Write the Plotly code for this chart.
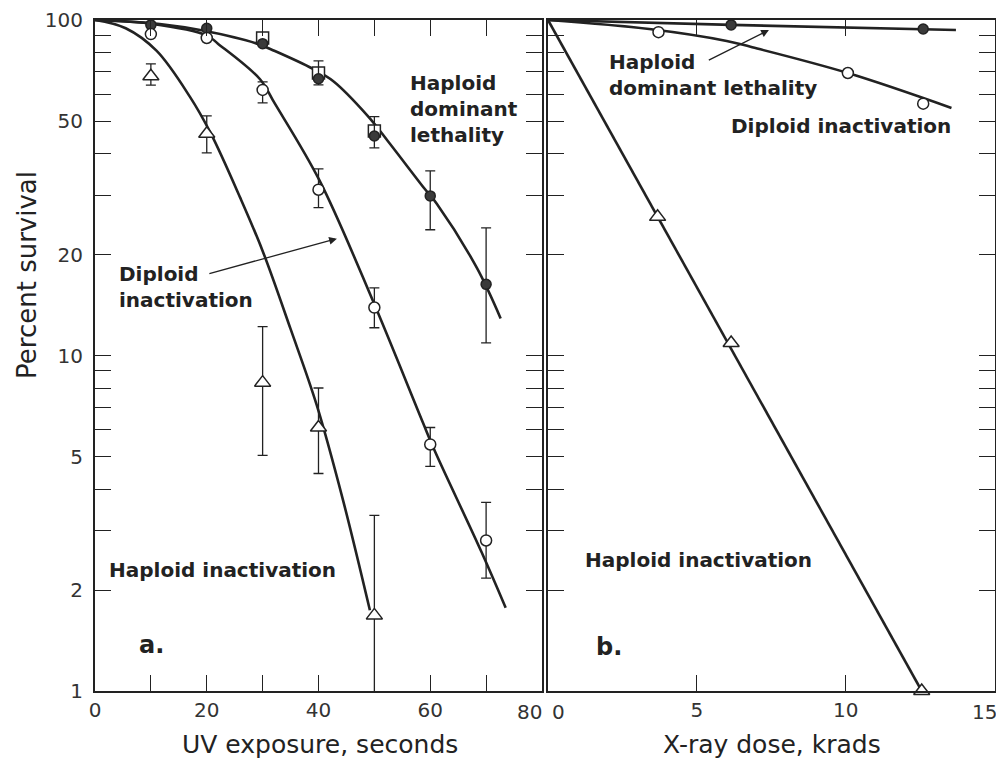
import math
import plotly.graph_objects as go

# ---- panel a: UV exposure (seconds) ----
uv_hap_t = [10, 20, 30, 40, 50]
uv_hap = [68, 45.8, 8.3, 6.1, 1.68]
uv_hap_hi = [74, 51.8, 12.2, 8.0, 3.34]
uv_hap_lo = [64, 40.2, 5.04, 4.45, 0.5]

uv_dip_t = [10, 20, 30, 40, 50, 60, 70]
uv_dip = [90.8, 88.4, 61.9, 31.2, 13.9, 5.43, 2.81]
uv_dip_hi = [90.8, 88.4, 65.4, 36.0, 15.9, 6.1, 3.65]
uv_dip_lo = [90.8, 88.4, 56.6, 27.6, 12.1, 4.67, 2.17]

uv_dom_t = [10, 20, 30, 40, 50, 60, 70]
uv_dom = [96.7, 94.5, 85.0, 66.8, 45.1, 29.9, 16.3]
uv_dom_hi = [96.7, 94.5, 85.0, 75.5, 51.5, 35.5, 24.0]
uv_dom_lo = [96.7, 94.5, 85.0, 64.1, 41.6, 23.7, 10.9]

uv_sq_t = [30, 40, 50]
uv_sq = [88.4, 69.5, 46.7]

# fitted curves
hap_curve_t = [0, 5.5, 11, 17, 20.7, 26, 30, 35, 39.7, 44.4, 49.2]
hap_curve = [100, 94.5, 81, 59, 46, 29.5, 20.5, 12, 7.1, 3.7, 1.74]
dip_curve_t = [0, 10, 20, 22, 29.5, 32.2, 40.2, 49.7, 58.7, 60.8, 69.2, 73.5]
dip_curve = [100, 97.5, 90, 85, 66.7, 56.3, 33.2, 14.6, 6.3, 5.2, 2.59, 1.77]
dom_curve_t = [0, 11.6, 19.3, 29, 32.2, 39, 42.6, 48.8, 52.4, 59, 61.2, 68.3, 72.6]
dom_curve = [100, 97.3, 93, 85, 80.8, 71.5, 65.8, 51.8, 43.6, 31.4, 28.3, 18.3, 12.9]

# ---- panel b: X-ray dose (krads) ----
xr_hap_d = [3.68, 6.15, 12.55]
xr_hap = [25.9, 10.9, 1.0]
xr_dip_d = [3.71, 10.07, 12.6]
xr_dip = [92, 69.5, 56.3]
xr_dom_d = [6.15, 12.6]
xr_dom = [96.7, 94]

xr_hap_curve_d = [0, 12.55]
xr_hap_curve = [100, 1.0]
xr_dip_curve_d = [0, 3.4, 6, 6.8, 10.07, 13.55]
xr_dip_curve = [100, 94, 86.6, 83.2, 69.5, 54.7]
xr_dom_curve_d = [0, 6.15, 13.7]
xr_dom_curve = [100, 96.7, 93.4]

y_ticks = [1, 2, 3, 4, 5, 6, 7, 8, 9, 10, 20, 30, 40, 50, 60, 70, 80, 90, 100]
y_labels = ['1', '2', '', '', '5', '', '', '', '', '10', '20', '', '', '50', '', '', '', '', '100']
uv_ticks = [0, 10, 20, 30, 40, 50, 60, 70, 80]
uv_labels = ['0', '', '20', '', '40', '', '60', '', '']
xr_ticks = [0, 5, 10, 15]
xr_labels = ['', '5', '10', '']
# labels at the shared panel edge, nudged apart as in the original
edge_labels = ['80', '0', '15']
edge_label_x = [0.4817, 0.5139, 0.9867]

INK = '#222222'
FONT = 'DejaVu Sans'


def err(vals, hi, lo):
    return dict(type='data', symmetric=False,
                array=[h - v for h, v in zip(hi, vals)],
                arrayminus=[v - l for v, l in zip(vals, lo)],
                color=INK, thickness=1.3, width=5)


def curve(x, y, xa, ya, shape='spline'):
    return go.Scatter(x=x, y=y, mode='lines', xaxis=xa, yaxis=ya,
                      line=dict(color=INK, width=2.6, shape=shape),
                      hoverinfo='skip', showlegend=False)


def pts(x, y, xa, ya, symbol, size, fill, error=None, clip=True):
    return go.Scatter(x=x, y=y, mode='markers', xaxis=xa, yaxis=ya,
                      marker=dict(symbol=symbol, size=size, color=fill,
                                  line=dict(color=INK, width=1.5)),
                      error_y=error, cliponaxis=clip, showlegend=False)


fig = go.Figure()

# panel a
fig.add_trace(curve(hap_curve_t, hap_curve, 'x', 'y'))
fig.add_trace(curve(dip_curve_t, dip_curve, 'x', 'y'))
fig.add_trace(curve(dom_curve_t, dom_curve, 'x', 'y'))
fig.add_trace(pts(uv_sq_t, uv_sq, 'x', 'y', 'square', 12, 'white'))
fig.add_trace(pts(uv_dom_t, uv_dom, 'x', 'y', 'circle', 10, '#3a3a3a',
                  err(uv_dom, uv_dom_hi, uv_dom_lo)))
fig.add_trace(pts(uv_dip_t, uv_dip, 'x', 'y', 'circle', 11, 'white',
                  err(uv_dip, uv_dip_hi, uv_dip_lo)))
fig.add_trace(pts(uv_hap_t, uv_hap, 'x', 'y', 'triangle-up', 14, 'white',
                  err(uv_hap, uv_hap_hi, uv_hap_lo)))

# panel b
fig.add_trace(curve(xr_hap_curve_d, xr_hap_curve, 'x2', 'y2', 'linear'))
fig.add_trace(curve(xr_dip_curve_d, xr_dip_curve, 'x2', 'y2'))
fig.add_trace(curve(xr_dom_curve_d, xr_dom_curve, 'x2', 'y2', 'linear'))
fig.add_trace(pts(xr_dom_d, xr_dom, 'x2', 'y2', 'circle', 10, '#3a3a3a'))
fig.add_trace(pts(xr_dip_d, xr_dip, 'x2', 'y2', 'circle', 11, 'white'))
fig.add_trace(pts(xr_hap_d, xr_hap, 'x2', 'y2', 'triangle-up', 14, 'white', clip=False))

tick_font = dict(family=FONT, size=20, color='#333333')
axis_common = dict(showline=True, linecolor=INK, linewidth=2, mirror='ticks',
                   ticks='inside', ticklen=16, tickwidth=1.4, tickcolor=INK,
                   showgrid=False, zeroline=False, automargin=False,
                   tickfont=tick_font)

# page body has an 8px margin on every side; keep the figure inside the window
fig.update_layout(
    width=988, height=753,
    margin=dict(l=87, r=0, t=12, b=70),
    plot_bgcolor='white', paper_bgcolor='white',
    xaxis=dict(axis_common, domain=[0, 0.4961], range=[0, 80],
               tickvals=uv_ticks, ticktext=uv_labels),
    xaxis2=dict(axis_common, domain=[0.5028, 0.9985], range=[0, 15],
                tickvals=xr_ticks, ticktext=xr_labels, anchor='y2'),
    yaxis=dict(axis_common, type='log', range=[0, 2], ticklabelstandoff=6,
               tickvals=y_ticks, ticktext=y_labels),
    yaxis2=dict(axis_common, type='log', range=[0, 2], anchor='x2',
                tickvals=y_ticks, showticklabels=False),
)

label_font = dict(family=FONT, size=20, color=INK, weight='bold')
title_font = dict(family=FONT, size=25, color=INK)


def note(text, x, y, xref, yref, font=label_font):
    fig.add_annotation(text=text, x=x, y=y, xref=xref, yref=yref,
                       xanchor='left', yanchor='middle', align='left',
                       showarrow=False, font=font)


def arrow(x0, y0, x1, y1, xref, yref):
    fig.add_annotation(text='', x=x1, y=math.log10(y1), ax=x0, ay=math.log10(y0),
                       xref=xref, yref=yref, axref=xref, ayref=yref,
                       showarrow=True, arrowhead=2, arrowsize=1.2,
                       arrowwidth=1.3, arrowcolor=INK)


note('Haploid<br>dominant<br>lethality', 56, 1.735, 'x', 'y')
note('Diploid<br>inactivation', 3.9, 1.205, 'x', 'y')
note('Haploid inactivation', 2.15, 0.36, 'x', 'y')
note('a.', 7.5, 0.137, 'x', 'y', dict(label_font, size=24))
arrow(20.2, 17.5, 43.3, 22.3, 'x', 'y')

note('Haploid<br>dominant lethality', 1.97, 1.836, 'x2', 'y2')
note('Diploid inactivation', 6.09, 1.685, 'x2', 'y2')
note('Haploid inactivation', 1.17, 0.39, 'x2', 'y2')
note('b.', 1.54, 0.131, 'x2', 'y2', dict(label_font, size=24))
arrow(5.35, 75.5, 7.42, 93.4, 'x2', 'y2')

for txt, px in zip(edge_labels, edge_label_x):
    fig.add_annotation(text=txt, x=px, y=-0.0315, xref='paper', yref='paper',
                       xanchor='center', yanchor='middle', showarrow=False,
                       font=tick_font)

# axis titles
fig.add_annotation(text='Percent survival', textangle=-90, x=-0.0755, y=0.62,
                   xref='paper', yref='paper', xanchor='center', yanchor='middle',
                   showarrow=False, font=dict(title_font, size=26))
fig.add_annotation(text='UV exposure, seconds', x=0.2492, y=-0.079,
                   xref='paper', yref='paper', xanchor='center', yanchor='middle',
                   showarrow=False, font=title_font)
fig.add_annotation(text='X-ray dose, krads', x=0.7514, y=-0.079,
                   xref='paper', yref='paper', xanchor='center', yanchor='middle',
                   showarrow=False, font=title_font)

fig.write_html('out.html')
